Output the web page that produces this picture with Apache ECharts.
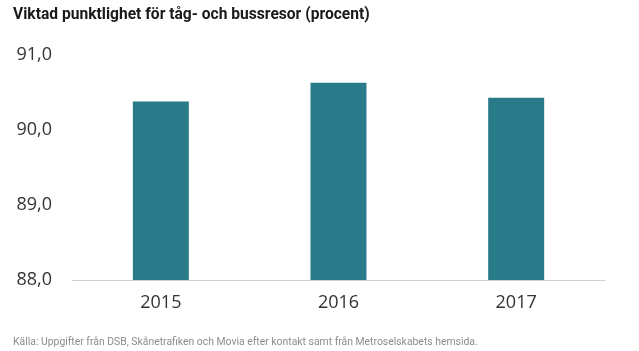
<!DOCTYPE html>
<html>
<head>
<meta charset="utf-8">
<script src="https://cdn.jsdelivr.net/npm/echarts@6/dist/echarts.min.js"></script>
<style>
  html, body { margin: 0; padding: 0; background: #fff; }
  #chart { width: 639px; height: 351px; }
</style>
</head>
<body>
<div id="chart"></div>
<script>
  // data
  var years = ['2015', '2016', '2017'];
  var punktlighet = [90.38, 90.63, 90.43];
  var yMin = 88, yMax = 91, yStep = 1;

  var myChart = echarts.init(document.getElementById('chart'));
  var option = {
    animation: false,
    title: [
      {
        text: 'Viktad punktlighet för tåg- och bussresor (procent)',
        left: 8,
        top: 2,
        textStyle: {
          fontFamily: 'Roboto',
          fontWeight: 'bold',
          fontSize: 15.6,
          color: '#1a1a1a'
        }
      },
      {
        text: 'Källa: Uppgifter från DSB, Skånetrafiken och Movia efter kontakt samt från Metroselskabets hemsida.',
        left: 8,
        top: 332,
        textStyle: {
          fontFamily: 'Roboto',
          fontWeight: 'normal',
          fontSize: 10.4,
          color: '#8c8c8c'
        }
      }
    ],
    grid: {
      left: 72,
      right: 34,
      top: 55,
      bottom: 71
    },
    xAxis: {
      type: 'category',
      data: years,
      axisLine: { lineStyle: { color: '#d0d0d0', width: 1 } },
      axisTick: { show: false },
      axisLabel: {
        color: '#333',
        fontSize: 18,
        fontFamily: 'Open Sans',
        margin: 14
      }
    },
    yAxis: {
      type: 'value',
      min: yMin,
      max: yMax,
      interval: yStep,
      axisLine: { show: false },
      axisTick: { show: false },
      splitLine: { show: false },
      axisLabel: {
        color: '#333',
        fontSize: 18,
        fontFamily: 'Open Sans',
        margin: 20,
        formatter: function (v) {
          return v.toFixed(1).replace('.', ',');
        }
      }
    },
    series: [
      {
        name: 'punktlighet',
        type: 'bar',
        barWidth: 56,
        itemStyle: { color: '#2a7b89' },
        data: punktlighet
      }
    ]
  };
  myChart.setOption(option);
</script>
</body>
</html>
